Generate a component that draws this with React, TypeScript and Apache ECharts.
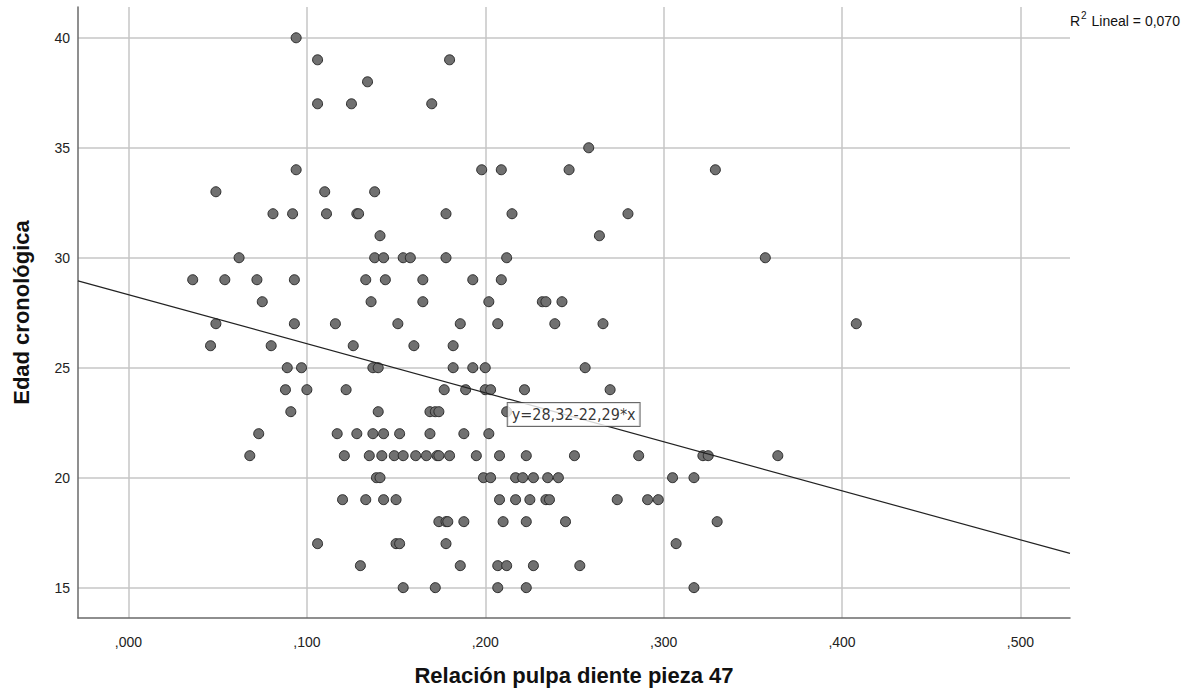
import React, { useEffect, useRef } from "react";
import * as echarts from "echarts";

// Edad cronológica (rows) and the Relación pulpa diente values read for each row
const AGES = [40, 39, 38, 37, 35, 34, 33, 32, 31, 30, 29, 28, 27, 26, 25, 24, 23, 22, 21, 20, 19, 18, 17, 16, 15];
const RATIOS_BY_AGE = [
  [0.094],
  [0.106, 0.18],
  [0.134],
  [0.106, 0.125, 0.17],
  [0.258],
  [0.094, 0.198, 0.209, 0.247, 0.329],
  [0.049, 0.11, 0.138],
  [0.081, 0.092, 0.111, 0.128, 0.129, 0.178, 0.215, 0.28],
  [0.141, 0.264],
  [0.062, 0.138, 0.143, 0.154, 0.158, 0.178, 0.212, 0.357],
  [0.036, 0.054, 0.072, 0.093, 0.133, 0.144, 0.165, 0.193, 0.209],
  [0.075, 0.136, 0.165, 0.202, 0.232, 0.234, 0.243],
  [0.049, 0.093, 0.116, 0.151, 0.186, 0.207, 0.239, 0.266, 0.408],
  [0.046, 0.08, 0.126, 0.16, 0.182],
  [0.089, 0.097, 0.137, 0.14, 0.182, 0.193, 0.2, 0.256],
  [0.088, 0.1, 0.122, 0.177, 0.189, 0.2, 0.203, 0.222, 0.27],
  [0.091, 0.14, 0.169, 0.172, 0.174, 0.212],
  [0.073, 0.117, 0.128, 0.137, 0.143, 0.152, 0.169, 0.188, 0.202],
  [0.068, 0.121, 0.135, 0.142, 0.149, 0.154, 0.161, 0.167, 0.173, 0.174, 0.18, 0.195, 0.208, 0.223, 0.25, 0.286, 0.322, 0.325, 0.364],
  [0.139, 0.141, 0.199, 0.203, 0.217, 0.221, 0.227, 0.235, 0.241, 0.305, 0.317],
  [0.12, 0.133, 0.143, 0.15, 0.208, 0.217, 0.225, 0.234, 0.236, 0.274, 0.291, 0.297],
  [0.174, 0.178, 0.179, 0.188, 0.21, 0.223, 0.245, 0.33],
  [0.106, 0.15, 0.152, 0.178, 0.307],
  [0.13, 0.186, 0.207, 0.212, 0.227, 0.253],
  [0.154, 0.172, 0.207, 0.223, 0.317],
];

// Axis ranges
const X_MIN = -0.0283;
const X_MAX = 0.5278;
const Y_MIN = 13.62;
const Y_MAX = 41.4;

// Linear fit shown in the chart
const FIT_INTERCEPT = 28.32;
const FIT_SLOPE = -22.29;
const FIT_LABEL = "y=28,32-22,29*x";
const FIT_LABEL_X = 0.2126;
const R2_BASE = "R";
const R2_SUP = "2";
const R2_REST = " Lineal = 0,070";

const X_TITLE = "Relación pulpa diente pieza 47";
const Y_TITLE = "Edad cronológica";

const FONT = "'Liberation Sans', Arial, sans-serif";

export default function App() {
  const ref = useRef<HTMLDivElement>(null);

  useEffect(() => {
    if (!ref.current) return;
    const chart = echarts.init(ref.current, null, { renderer: "svg" });

    const points: number[][] = [];
    AGES.forEach((age, i) => {
      RATIOS_BY_AGE[i].forEach((r) => points.push([r, age]));
    });

    const fit = (x: number) => FIT_INTERCEPT + FIT_SLOPE * x;

    chart.setOption({
      animation: false,
      backgroundColor: "#ffffff",
      grid: { left: 78, right: 128, top: 7, bottom: 74, containLabel: false },
      xAxis: {
        type: "value",
        min: X_MIN,
        max: X_MAX,
        name: X_TITLE,
        nameLocation: "middle",
        nameGap: 46,
        nameTextStyle: { fontFamily: FONT, fontSize: 22, fontWeight: "bold", color: "#111" },
        axisLine: { show: true, onZero: false, lineStyle: { color: "#6a6a6a", width: 1.5 } },
        axisTick: { show: false },
        axisLabel: {
          showMinLabel: false,
          showMaxLabel: false,
          margin: 17,
          fontFamily: FONT,
          fontSize: 14,
          color: "#222",
          formatter: (v: number) => {
            const r = Math.round(v * 1000);
            if (r % 100 !== 0) return "";
            return "," + String(r).padStart(3, "0");
          },
        },
        splitLine: {
          show: true,
          showMinLine: false,
          showMaxLine: false,
          lineStyle: { color: "#c6c6c6", width: 1.5 },
        },
      },
      yAxis: {
        type: "value",
        min: Y_MIN,
        max: Y_MAX,
        name: Y_TITLE,
        nameLocation: "middle",
        nameGap: 46,
        nameRotate: 90,
        nameTextStyle: { fontFamily: FONT, fontSize: 22, fontWeight: "bold", color: "#111" },
        axisLine: { show: true, onZero: false, lineStyle: { color: "#6a6a6a", width: 1.5 } },
        axisTick: { show: false },
        axisLabel: {
          showMinLabel: false,
          showMaxLabel: false,
          margin: 8,
          fontFamily: FONT,
          fontSize: 14,
          color: "#222",
          formatter: (v: number) =>
            Math.abs(v - Math.round(v)) < 1e-6 && Math.round(v) % 5 === 0 ? String(Math.round(v)) : "",
        },
        splitLine: {
          show: true,
          showMinLine: false,
          showMaxLine: false,
          lineStyle: { color: "#c6c6c6", width: 1.5 },
        },
      },
      series: [
        {
          type: "scatter",
          data: points,
          symbolSize: 10,
          itemStyle: { color: "#707070", borderColor: "#2b2b2b", borderWidth: 1, opacity: 1 },
          silent: true,
          z: 2,
        },
        {
          type: "line",
          data: [
            [X_MIN, fit(X_MIN)],
            [X_MAX, fit(X_MAX)],
          ],
          symbol: "none",
          lineStyle: { color: "#222", width: 1.2 },
          silent: true,
          z: 3,
        },
        {
          type: "scatter",
          data: [[FIT_LABEL_X, fit(FIT_LABEL_X)]],
          symbolSize: 0,
          silent: true,
          z: 5,
          label: {
            show: true,
            position: [0, 4],
            formatter: FIT_LABEL,
            fontFamily: "'DejaVu Sans Condensed', 'Liberation Sans', sans-serif",
            fontSize: 16,
            color: "#000",
            backgroundColor: "#ffffff",
            borderColor: "#444",
            borderWidth: 1,
            padding: [4, 4, 3, 4],
          },
        },
      ],
      graphic: [
        {
          type: "text",
          left: 1070,
          top: 10,
          style: {
            text: `{b|${R2_BASE}}{s|${R2_SUP}}{b|${R2_REST}}`,
            rich: {
              b: { fontFamily: FONT, fontSize: 14, fill: "#111", verticalAlign: "bottom", lineHeight: 18 },
              s: { fontFamily: FONT, fontSize: 10, fill: "#111", verticalAlign: "top", lineHeight: 18, padding: [0, 1, 6, 1] },
            },
          },
        },
      ],
    });

    return () => chart.dispose();
  }, []);

  return (
    <div
      ref={ref}
      style={{ position: "fixed", left: 0, top: 0, width: 1198, height: 692, background: "#fff" }}
    />
  );
}
